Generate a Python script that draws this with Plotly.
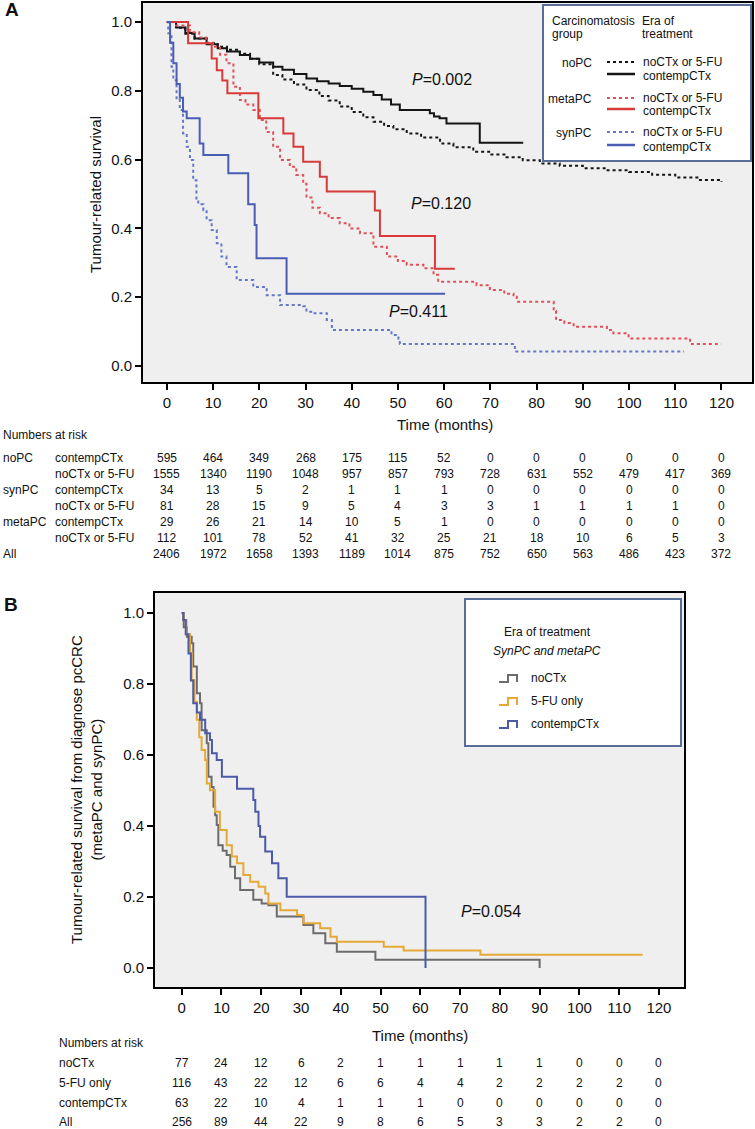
import plotly.graph_objects as go

W, H = 755, 1129
def px(x): return x / W
def py(y): return 1 - y / H

FONT = "Liberation Sans, Arial, Helvetica, sans-serif"
NARROW = "Liberation Sans Narrow, Arial Narrow, Liberation Sans, Arial, sans-serif"

# ---------------- Panel A data (step curves: time in months, survival) ----------------
noPC_contemp_t = [0, 2, 4, 6, 8.6, 11, 13, 15.8, 18, 20, 23, 25, 27.5, 30.2, 32.5, 35, 37.4, 40, 42.5,
                  44.7, 46.5, 48.5, 50.4, 56.9, 57.8, 59, 60.5, 67.7, 77.1]
noPC_contemp_s = [1.0, 0.984, 0.968, 0.952, 0.935, 0.924, 0.914, 0.904, 0.893, 0.882, 0.870, 0.861, 0.849,
                  0.836, 0.828, 0.821, 0.814, 0.806, 0.797, 0.788, 0.775, 0.760, 0.744, 0.735, 0.725, 0.72,
                  0.705, 0.649, 0.649]

noPC_nocx_t = [0, 2, 4, 6, 8.6, 11, 13, 15.8, 18, 20, 23, 25, 27.5, 30.2, 33, 35, 37.4, 40, 42.5, 44.7,
               47, 49, 51.9, 55, 59.1, 62, 66.3, 70, 73.5, 77, 80.7, 85, 90, 95, 100, 105, 110, 115, 120]
noPC_nocx_s = [1.0, 0.983, 0.966, 0.952, 0.939, 0.928, 0.919, 0.908, 0.893, 0.877, 0.846, 0.833, 0.818,
               0.802, 0.785, 0.772, 0.754, 0.738, 0.723, 0.710, 0.698, 0.688, 0.676, 0.664, 0.647, 0.636,
               0.623, 0.615, 0.607, 0.598, 0.589, 0.582, 0.575, 0.569, 0.564, 0.556, 0.548, 0.541, 0.535]

meta_contemp_t = [0, 4.6, 9.7, 10.8, 12, 13.1, 19.8, 25.2, 27.4, 29.5, 33.1, 34.6, 45.0, 46.1, 58.0, 62.3]
meta_contemp_s = [1.0, 0.938, 0.894, 0.86, 0.83, 0.793, 0.72, 0.676, 0.637, 0.594, 0.55, 0.507, 0.452,
                  0.378, 0.283, 0.283]

meta_nocx_t = [0, 2, 5.0, 7, 8.5, 10.0, 11.5, 12.9, 14.4, 15.8, 17, 18.7, 20.1, 21.5, 23.0, 24.5, 26.6,
               28, 29.5, 30.2, 31.5, 33.1, 35, 37.4, 39.5, 41.8, 44.7, 47.6, 50, 51.9, 55.5, 57.7, 58.7,
               67.0, 69.9, 73, 75.0, 75.7, 83.7, 84.2, 86, 88.0, 95.2, 96.6, 99.9, 113.2, 119.9]
meta_nocx_s = [1.0, 0.99, 0.97, 0.955, 0.94, 0.928, 0.905, 0.88, 0.812, 0.773, 0.76, 0.744, 0.715, 0.68,
               0.637, 0.599, 0.579, 0.555, 0.53, 0.49, 0.46, 0.444, 0.43, 0.415, 0.40, 0.386, 0.347, 0.318,
               0.305, 0.294, 0.284, 0.265, 0.245, 0.235, 0.221, 0.21, 0.201, 0.187, 0.16, 0.134, 0.125,
               0.114, 0.105, 0.095, 0.080, 0.064, 0.064]

syn_contemp_t = [0, 0.7, 1.4, 2.1, 2.8, 3.5, 4.3, 7.1, 7.9, 13.3, 17.6, 19.0, 19.4, 25.9, 60.2]
syn_contemp_s = [1.0, 0.94, 0.88, 0.82, 0.78, 0.74, 0.72, 0.647, 0.613, 0.56, 0.47, 0.41, 0.313, 0.21, 0.21]

syn_nocx_t = [0, 0.3, 1.0, 1.4, 2.1, 2.8, 3.5, 4.3, 5.0, 5.7, 6.4, 6.8, 7.9, 8.6, 9.7, 10.8, 11.8, 12.9,
              15.1, 18.7, 21.6, 24.5, 29.5, 30.2, 31.7, 34.6, 35.7, 48.6, 50.1, 50.4, 75.3, 111.9]
syn_nocx_s = [1.0, 0.967, 0.87, 0.831, 0.773, 0.744, 0.676, 0.637, 0.599, 0.54, 0.483, 0.47, 0.453, 0.424,
              0.395, 0.357, 0.318, 0.288, 0.25, 0.23, 0.206, 0.177, 0.174, 0.158, 0.153, 0.134, 0.105,
              0.09, 0.076, 0.064, 0.042, 0.042]

# P values panel A (label, month, survival)
pA_labels = ["0.002", "0.120", "0.411"]
pA_x = [59.5, 59.3, 54.4]
pA_y = [0.834, 0.471, 0.158]

# Numbers at risk panel A
months = [0, 10, 20, 30, 40, 50, 60, 70, 80, 90, 100, 110, 120]
riskA_groups = ["noPC", "", "synPC", "", "metaPC", "", "All"]
riskA_sub = ["contempCTx", "noCTx or 5-FU", "contempCTx", "noCTx or 5-FU", "contempCTx", "noCTx or 5-FU", ""]
risk_noPC_contemp = [595, 464, 349, 268, 175, 115, 52, 0, 0, 0, 0, 0, 0]
risk_noPC_nocx = [1555, 1340, 1190, 1048, 957, 857, 793, 728, 631, 552, 479, 417, 369]
risk_syn_contemp = [34, 13, 5, 2, 1, 1, 1, 0, 0, 0, 0, 0, 0]
risk_syn_nocx = [81, 28, 15, 9, 5, 4, 3, 3, 1, 1, 1, 1, 0]
risk_meta_contemp = [29, 26, 21, 14, 10, 5, 1, 0, 0, 0, 0, 0, 0]
risk_meta_nocx = [112, 101, 78, 52, 41, 32, 25, 21, 18, 10, 6, 5, 3]
risk_allA = [2406, 1972, 1658, 1393, 1189, 1014, 875, 752, 650, 563, 486, 423, 372]

# ---------------- Panel B data ----------------
b_nocx_t = [0, 0.5, 1.3, 2.5, 2.9, 3.8, 4.6, 5.0, 6.3, 6.7, 7.5, 8.0, 8.4, 8.8, 9.2, 10.3, 11.3, 12.2,
            13.4, 14.7, 18.0, 20.1, 21.8, 23.9, 30.6, 33.1, 36.1, 39.0, 48.7, 90]
b_nocx_s = [1.0, 0.96, 0.933, 0.915, 0.849, 0.774, 0.746, 0.67, 0.633, 0.539, 0.51, 0.454, 0.43, 0.403,
            0.346, 0.33, 0.318, 0.285, 0.253, 0.22, 0.192, 0.182, 0.177, 0.145, 0.121, 0.098, 0.07, 0.046,
            0.023, 0.0]

b_fu_t = [0, 0.4, 1.2, 2.1, 2.5, 3.2, 3.8, 4.4, 5.0, 5.9, 6.3, 7.1, 8.4, 9.6, 11.3, 12.6, 13.9, 15.5, 17.2,
          19.3, 21.0, 21.8, 24.8, 29.0, 30.6, 34.8, 37.4, 39.0, 50.8, 55.8, 75.1, 115.9]
b_fu_s = [1.0, 0.98, 0.94, 0.887, 0.811, 0.75, 0.699, 0.65, 0.614, 0.586, 0.52, 0.501, 0.44, 0.389, 0.346,
          0.314, 0.295, 0.262, 0.243, 0.229, 0.21, 0.182, 0.163, 0.149, 0.126, 0.112, 0.088, 0.074, 0.06,
          0.049, 0.037, 0.037]

b_contemp_t = [0, 0.4, 1.0, 1.7, 2.3, 2.9, 3.8, 4.6, 5.9, 7.1, 7.6, 8.8, 10.1, 13.9, 18.0, 18.5, 19.3,
               19.7, 21.0, 22.7, 24.3, 26.4, 61.3]
b_contemp_s = [1.0, 0.98, 0.94, 0.886, 0.81, 0.746, 0.72, 0.699, 0.661, 0.642, 0.605, 0.586, 0.539, 0.505,
               0.473, 0.44, 0.40, 0.37, 0.328, 0.295, 0.253, 0.201, 0.0]

pB_label = "0.054"
pB_x = 77.8
pB_y = 0.158

riskB_labels = ["noCTx", "5-FU only", "contempCTx", "All"]
riskB_nocx = [77, 24, 12, 6, 2, 1, 1, 1, 1, 1, 0, 0, 0]
riskB_fu = [116, 43, 22, 12, 6, 6, 4, 4, 2, 2, 2, 2, 0]
riskB_contemp = [63, 22, 10, 4, 1, 1, 1, 0, 0, 0, 0, 0, 0]
riskB_all = [256, 89, 44, 22, 9, 8, 6, 5, 3, 3, 2, 2, 0]

yticks = [0, 0.2, 0.4, 0.6, 0.8, 1.0]

# ---------------- colours ----------------
BLACK = "#151515"
RED = "#d83a3a"
RED_DOT = "#e0505a"
BLUE_A = "#4a5db5"
BLUE_A_DOT = "#6478c8"
GREY_B = "#6c6c6c"
ORANGE_B = "#e6a937"
BLUE_B = "#4d5aa8"
LEG_BORDER = "#5a6c98"

fig = go.Figure()

def step(t, s, color, dash, xa, ya, width=2):
    fig.add_trace(go.Scatter(x=t, y=s, mode="lines", line=dict(color=color, width=width, dash=dash, shape="hv"),
                             xaxis=xa, yaxis=ya, hoverinfo="skip", showlegend=False))

# Panel A curves
step(noPC_nocx_t, noPC_nocx_s, BLACK, "dot", "x", "y")
step(noPC_contemp_t, noPC_contemp_s, BLACK, "solid", "x", "y")
step(meta_nocx_t, meta_nocx_s, RED_DOT, "dot", "x", "y")
step(meta_contemp_t, meta_contemp_s, RED, "solid", "x", "y")
step(syn_nocx_t, syn_nocx_s, BLUE_A_DOT, "dot", "x", "y")
step(syn_contemp_t, syn_contemp_s, BLUE_A, "solid", "x", "y")

# Panel B curves
step(b_nocx_t, b_nocx_s, GREY_B, "solid", "x2", "y2")
step(b_fu_t, b_fu_s, ORANGE_B, "solid", "x2", "y2")
step(b_contemp_t, b_contemp_s, BLUE_B, "solid", "x2", "y2")

axis_common = dict(showline=True, linewidth=2, linecolor="black", mirror=True, showgrid=False, zeroline=False,
                   ticks="outside", ticklen=6, tickwidth=2, tickcolor="black",
                   tickfont=dict(family=FONT, size=15, color="#111"))

fig.update_layout(
    width=W, height=H, margin=dict(l=0, r=0, t=0, b=0),
    paper_bgcolor="white", plot_bgcolor="#efefef", showlegend=False,
    xaxis=dict(domain=[px(143), px(752)], range=[-5.16, 126.6], tickvals=months, anchor="y", **axis_common),
    yaxis=dict(domain=[py(382), py(3)], range=[-0.0465, 1.0552], tickvals=yticks, tickformat=".1f",
               anchor="x", **axis_common),
    xaxis2=dict(domain=[px(155), px(684)], range=[-6.72, 126.3], tickvals=months, anchor="y2", **axis_common),
    yaxis2=dict(domain=[py(987), py(593)], range=[-0.0535, 1.0563], tickvals=yticks, tickformat=".1f",
                anchor="x2", **axis_common),
)

ann = []
shapes = []

def T(x, y, s, size=12, xanchor="left", family=FONT, xref="paper", yref="paper", **kw):
    ann.append(dict(x=x, y=y, text=s, xref=xref, yref=yref, xanchor=xanchor, yanchor="middle", showarrow=False,
                    font=dict(family=family, size=size, color=kw.pop("color", "#111")), **kw))

# Panel letters
T(px(3), py(9), "<b>A</b>", size=19)
T(px(2), py(604), "<b>B</b>", size=19)

# Axis titles A
T(px(95), py(195), "Tumour-related survival", size=15, xanchor="center", textangle=-90)
T(px(445), py(425), "Time (months)", size=15, xanchor="center")
# Axis titles B
T(px(86), py(790), "Tumour-related survival from diagnose pcCRC<br>(metaPC and synPC)", size=15,
  xanchor="center", textangle=-90)
T(px(420), py(1035), "Time (months)", size=15, xanchor="center")

# P values
for lab, xv, yv in zip(pA_labels, pA_x, pA_y):
    T(xv, yv, "<i>P</i>=" + lab, size=16, xanchor="center", xref="x", yref="y")
T(pB_x, pB_y, "<i>P</i>=" + pB_label, size=16, xanchor="center", xref="x2", yref="y2")

# Risk table A
T(px(1), py(435), "Numbers at risk", size=12)
rowsA = [risk_noPC_contemp, risk_noPC_nocx, risk_syn_contemp, risk_syn_nocx, risk_meta_contemp,
         risk_meta_nocx, risk_allA]
rowyA = [457.5, 474, 490, 506, 522, 538, 554]
for g, sub, vals, yy in zip(riskA_groups, riskA_sub, rowsA, rowyA):
    if g:
        T(px(1), py(yy), g, size=12)
    if sub:
        T(px(53), py(yy), sub, size=12)
    for m, v in zip(months, vals):
        T(m, py(yy), str(v), size=12, xanchor="center", xref="x")

# Risk table B
T(px(57), py(1043), "Numbers at risk", size=12, family=NARROW)
rowsB = [riskB_nocx, riskB_fu, riskB_contemp, riskB_all]
rowyB = [1063, 1083, 1103, 1122]
for lab, vals, yy in zip(riskB_labels, rowsB, rowyB):
    T(px(57), py(yy), lab, size=12, family=NARROW)
    for m, v in zip(months, vals):
        T(m, py(yy), str(v), size=12, xanchor="center", xref="x2", family=NARROW)

# Legend A (box)
shapes.append(dict(type="rect", xref="paper", yref="paper", x0=px(543), x1=px(751), y0=py(161), y1=py(5),
                   fillcolor="white", line=dict(color=LEG_BORDER, width=2), layer="above"))
T(px(550), py(21), "Carcinomatosis", size=12)
T(px(550), py(34), "group", size=12)
T(px(640), py(21), "Era of", size=12)
T(px(640), py(34), "treatment", size=12)
legA = [("noPC", BLACK, BLACK, 62, 74), ("metaPC", RED_DOT, RED, 98, 109), ("synPC", BLUE_A_DOT, BLUE_A, 132, 145)]
for name, cdot, csol, y1, y2 in legA:
    T(px(594), py(y1 + 1), name, size=12, xanchor="right")
    shapes.append(dict(type="line", xref="paper", yref="paper", x0=px(607), x1=px(635), y0=py(y1), y1=py(y1),
                       line=dict(color=cdot, width=2, dash="dot"), layer="above"))
    shapes.append(dict(type="line", xref="paper", yref="paper", x0=px(607), x1=px(635), y0=py(y2), y1=py(y2),
                       line=dict(color=csol, width=2.5), layer="above"))
    T(px(641), py(y1), "noCTx or 5-FU", size=12)
    T(px(641), py(y2 + 2), "contempCTx", size=12)

# Legend B
shapes.append(dict(type="rect", xref="paper", yref="paper", x0=px(465), x1=px(681), y0=py(746), y1=py(599),
                   fillcolor="white", line=dict(color=LEG_BORDER, width=2), layer="above"))
T(px(547), py(632), "Era of treatment", size=12, xanchor="center")
T(px(547), py(651), "<i>SynPC and metaPC</i>", size=12, xanchor="center")
legB = [("noCTx", GREY_B, 678), ("5-FU only", ORANGE_B, 701), ("contempCTx", BLUE_B, 724)]
for name, col, yy in legB:
    p = (f"M {px(499)},{py(yy + 4)} L {px(508)},{py(yy + 4)} L {px(508)},{py(yy - 3)} "
         f"L {px(517)},{py(yy - 3)} L {px(517)},{py(yy + 4)}")
    shapes.append(dict(type="path", xref="paper", yref="paper", path=p, line=dict(color=col, width=2),
                       layer="above"))
    T(px(529), py(yy), name, size=12)

fig.update_layout(annotations=ann, shapes=shapes)
fig.write_html("out.html",
               config={"displayModeBar": False},
               post_script="document.body.style.margin='0px';document.body.style.padding='0px';"
                           "document.body.style.overflow='hidden';")
